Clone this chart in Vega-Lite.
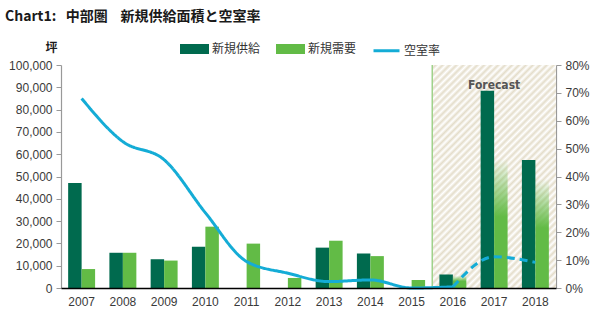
{
  "$schema": "https://vega.github.io/schema/vega-lite/v6.json",
  "width": 495,
  "height": 223,
  "autosize": {"type": "none"},
  "padding": {"left": 61, "top": 65, "right": 44, "bottom": 33},
  "background": "white",
  "title": {
    "text": "Chart1:\u00a0\u00a0\u00a0中部圏\u00a0\u00a0\u00a0\u00a0新規供給面積と空室率",
    "anchor": "start",
    "frame": "group",
    "dx": -56,
    "offset": 10,
    "font": "Noto Sans CJK JP",
    "fontSize": 14,
    "fontWeight": "bold",
    "color": "#1a1a1a"
  },
  "config": {
    "view": {"stroke": null},
    "axis": {"labelFont": "Liberation Sans", "labelFontSize": 12, "labelColor": "#3a3a3a", "grid": false, "labelOverlap": false},
    "axisX": {"labelAngle": 0, "ticks": false, "tickSize": 0, "labelPadding": 8, "domainColor": "#000000", "domainWidth": 1.5},
    "axisY": {"domainColor": "#999999", "tickColor": "#999999", "tickSize": 5, "labelPadding": 4, "domainWidth": 1.2}
  },
  "datasets": {
    "bars": [
      {"year": "2007", "series": "新規供給", "value": 47100},
      {"year": "2008", "series": "新規供給", "value": 15800},
      {"year": "2009", "series": "新規供給", "value": 12900},
      {"year": "2010", "series": "新規供給", "value": 18500},
      {"year": "2011", "series": "新規供給", "value": 0},
      {"year": "2012", "series": "新規供給", "value": 0},
      {"year": "2013", "series": "新規供給", "value": 18100},
      {"year": "2014", "series": "新規供給", "value": 15500},
      {"year": "2015", "series": "新規供給", "value": 0},
      {"year": "2016", "series": "新規供給", "value": 6100},
      {"year": "2017", "series": "新規供給", "value": 88500},
      {"year": "2018", "series": "新規供給", "value": 57400},
      {"year": "2007", "series": "新規需要", "value": 8500},
      {"year": "2008", "series": "新規需要", "value": 15800},
      {"year": "2009", "series": "新規需要", "value": 12300},
      {"year": "2010", "series": "新規需要", "value": 27500},
      {"year": "2011", "series": "新規需要", "value": 19900},
      {"year": "2012", "series": "新規需要", "value": 4500},
      {"year": "2013", "series": "新規需要", "value": 21200},
      {"year": "2014", "series": "新規需要", "value": 14300},
      {"year": "2015", "series": "新規需要", "value": 3600},
      {"year": "2016", "series": "新規需要", "value": 5500},
      {"year": "2017", "series": "新規需要", "value": 58000},
      {"year": "2018", "series": "新規需要", "value": 49000}
    ],
    "rate": [
      {"year": "2007", "rate": 0.68, "seg": "actual"},
      {"year": "2008", "rate": 0.525, "seg": "actual"},
      {"year": "2009", "rate": 0.46, "seg": "actual"},
      {"year": "2010", "rate": 0.27, "seg": "actual"},
      {"year": "2011", "rate": 0.095, "seg": "actual"},
      {"year": "2012", "rate": 0.053, "seg": "actual"},
      {"year": "2013", "rate": 0.023, "seg": "actual"},
      {"year": "2014", "rate": 0.029, "seg": "actual"},
      {"year": "2015", "rate": 0.0, "seg": "actual"},
      {"year": "2016", "rate": 0.004, "seg": "actual"},
      {"year": "2016", "rate": 0.004, "seg": "forecast"},
      {"year": "2017", "rate": 0.112, "seg": "forecast"},
      {"year": "2018", "rate": 0.092, "seg": "forecast"}
    ],
    "fc": [{"start": "2016", "end": "2018", "mid": "2017", "label": "Forecast"}]
  },
  "layer": [
    {
      "layer": [
        {
          "data": {"name": "fc"},
          "mark": {
            "type": "rect",
            "fill": {
              "gradient": "linear", "x1": 0, "y1": 0, "x2": 0.66, "y2": 1.19,
              "stops": [
                {"offset": 0, "color": "#ffffff"}, {"offset": 0.01, "color": "#e4ddca"},
                {"offset": 0.02, "color": "#ffffff"}, {"offset": 0.03, "color": "#e4ddca"},
                {"offset": 0.04, "color": "#ffffff"}, {"offset": 0.05, "color": "#e4ddca"},
                {"offset": 0.06, "color": "#ffffff"}, {"offset": 0.07, "color": "#e4ddca"},
                {"offset": 0.08, "color": "#ffffff"}, {"offset": 0.09, "color": "#e4ddca"},
                {"offset": 0.10, "color": "#ffffff"}, {"offset": 0.11, "color": "#e4ddca"},
                {"offset": 0.12, "color": "#ffffff"}, {"offset": 0.13, "color": "#e4ddca"},
                {"offset": 0.14, "color": "#ffffff"}, {"offset": 0.15, "color": "#e4ddca"},
                {"offset": 0.16, "color": "#ffffff"}, {"offset": 0.17, "color": "#e4ddca"},
                {"offset": 0.18, "color": "#ffffff"}, {"offset": 0.19, "color": "#e4ddca"},
                {"offset": 0.20, "color": "#ffffff"}, {"offset": 0.21, "color": "#e4ddca"},
                {"offset": 0.22, "color": "#ffffff"}, {"offset": 0.23, "color": "#e4ddca"},
                {"offset": 0.24, "color": "#ffffff"}, {"offset": 0.25, "color": "#e4ddca"},
                {"offset": 0.26, "color": "#ffffff"}, {"offset": 0.27, "color": "#e4ddca"},
                {"offset": 0.28, "color": "#ffffff"}, {"offset": 0.29, "color": "#e4ddca"},
                {"offset": 0.30, "color": "#ffffff"}, {"offset": 0.31, "color": "#e4ddca"},
                {"offset": 0.32, "color": "#ffffff"}, {"offset": 0.33, "color": "#e4ddca"},
                {"offset": 0.34, "color": "#ffffff"}, {"offset": 0.35, "color": "#e4ddca"},
                {"offset": 0.36, "color": "#ffffff"}, {"offset": 0.37, "color": "#e4ddca"},
                {"offset": 0.38, "color": "#ffffff"}, {"offset": 0.39, "color": "#e4ddca"},
                {"offset": 0.40, "color": "#ffffff"}, {"offset": 0.41, "color": "#e4ddca"},
                {"offset": 0.42, "color": "#ffffff"}, {"offset": 0.43, "color": "#e4ddca"},
                {"offset": 0.44, "color": "#ffffff"}, {"offset": 0.45, "color": "#e4ddca"},
                {"offset": 0.46, "color": "#ffffff"}, {"offset": 0.47, "color": "#e4ddca"},
                {"offset": 0.48, "color": "#ffffff"}, {"offset": 0.49, "color": "#e4ddca"},
                {"offset": 0.50, "color": "#ffffff"}, {"offset": 0.51, "color": "#e4ddca"},
                {"offset": 0.52, "color": "#ffffff"}, {"offset": 0.53, "color": "#e4ddca"},
                {"offset": 0.54, "color": "#ffffff"}, {"offset": 0.55, "color": "#e4ddca"},
                {"offset": 0.56, "color": "#ffffff"}, {"offset": 0.57, "color": "#e4ddca"},
                {"offset": 0.58, "color": "#ffffff"}, {"offset": 0.59, "color": "#e4ddca"},
                {"offset": 0.60, "color": "#ffffff"}, {"offset": 0.61, "color": "#e4ddca"},
                {"offset": 0.62, "color": "#ffffff"}, {"offset": 0.63, "color": "#e4ddca"},
                {"offset": 0.64, "color": "#ffffff"}, {"offset": 0.65, "color": "#e4ddca"},
                {"offset": 0.66, "color": "#ffffff"}, {"offset": 0.67, "color": "#e4ddca"},
                {"offset": 0.68, "color": "#ffffff"}, {"offset": 0.69, "color": "#e4ddca"},
                {"offset": 0.70, "color": "#ffffff"}, {"offset": 0.71, "color": "#e4ddca"},
                {"offset": 0.72, "color": "#ffffff"}, {"offset": 0.73, "color": "#e4ddca"},
                {"offset": 0.74, "color": "#ffffff"}, {"offset": 0.75, "color": "#e4ddca"},
                {"offset": 0.76, "color": "#ffffff"}, {"offset": 0.77, "color": "#e4ddca"},
                {"offset": 0.78, "color": "#ffffff"}, {"offset": 0.79, "color": "#e4ddca"},
                {"offset": 0.80, "color": "#ffffff"}, {"offset": 0.81, "color": "#e4ddca"},
                {"offset": 0.82, "color": "#ffffff"}, {"offset": 0.83, "color": "#e4ddca"},
                {"offset": 0.84, "color": "#ffffff"}, {"offset": 0.85, "color": "#e4ddca"},
                {"offset": 0.86, "color": "#ffffff"}, {"offset": 0.87, "color": "#e4ddca"},
                {"offset": 0.88, "color": "#ffffff"}, {"offset": 0.89, "color": "#e4ddca"},
                {"offset": 0.90, "color": "#ffffff"}, {"offset": 0.91, "color": "#e4ddca"},
                {"offset": 0.92, "color": "#ffffff"}, {"offset": 0.93, "color": "#e4ddca"},
                {"offset": 0.94, "color": "#ffffff"}, {"offset": 0.95, "color": "#e4ddca"},
                {"offset": 0.96, "color": "#ffffff"}, {"offset": 0.97, "color": "#e4ddca"},
                {"offset": 0.98, "color": "#ffffff"}, {"offset": 0.99, "color": "#e4ddca"},
                {"offset": 1, "color": "#ffffff"}
              ]
            }
          },
          "encoding": {
            "x": {"field": "start", "type": "ordinal", "bandPosition": 0, "title": null},
            "x2": {"field": "end", "bandPosition": 1},
            "y": {
              "datum": 0, "type": "quantitative", "title": "坪",
              "scale": {"domain": [0, 100000]},
              "axis": {
                "values": [0,10000,20000,30000,40000,50000,60000,70000,80000,90000,100000],
                "format": ",d",
                "labelOverlap": false,
                "titleAngle": 0, "titleX": -10, "titleY": -18, "titleAlign": "center", "titleBaseline": "middle",
                "titleFont": "Noto Sans CJK JP", "titleFontSize": 12, "titleFontWeight": "bold", "titleColor": "#1a1a1a"
              }
            },
            "y2": {"datum": 100000}
          }
        },
        {
          "data": {"name": "fc"},
          "mark": {"type": "rule", "color": "#9fd28b", "strokeWidth": 1.5},
          "encoding": {
            "x": {"field": "start", "type": "ordinal", "bandPosition": 0, "title": null},
            "y": {
              "datum": 0, "type": "quantitative", "title": "坪",
              "axis": {
                "values": [0,10000,20000,30000,40000,50000,60000,70000,80000,90000,100000],
                "format": ",d",
                "labelOverlap": false,
                "titleAngle": 0, "titleX": -10, "titleY": -18, "titleAlign": "center", "titleBaseline": "middle",
                "titleFont": "Noto Sans CJK JP", "titleFontSize": 12, "titleFontWeight": "bold", "titleColor": "#1a1a1a"
              }
            },
            "y2": {"datum": 100000}
          }
        },
        {
          "data": {"name": "fc"},
          "mark": {"type": "text", "font": "Liberation Sans Narrow, DejaVu Sans Condensed, sans-serif", "fontWeight": "bold", "fontSize": 12, "color": "#555555"},
          "encoding": {
            "x": {"field": "mid", "type": "ordinal", "title": null},
            "y": {
              "datum": 91000, "type": "quantitative", "title": "坪",
              "axis": {
                "values": [0,10000,20000,30000,40000,50000,60000,70000,80000,90000,100000],
                "format": ",d",
                "labelOverlap": false,
                "titleAngle": 0, "titleX": -10, "titleY": -18, "titleAlign": "center", "titleBaseline": "middle",
                "titleFont": "Noto Sans CJK JP", "titleFontSize": 12, "titleFontWeight": "bold", "titleColor": "#1a1a1a"
              }
            },
            "text": {"field": "label"}
          }
        },
        {
          "data": {"name": "bars"},
          "transform": [{"filter": "!(datum.series === '新規需要' && datum.year >= '2016')"}],
          "mark": {"type": "bar"},
          "encoding": {
            "x": {
              "field": "year", "type": "ordinal", "title": null,
              "scale": {"domain": ["2007","2008","2009","2010","2011","2012","2013","2014","2015","2016","2017","2018"], "paddingInner": 0, "paddingOuter": 0}
            },
            "xOffset": {"field": "series", "type": "nominal", "scale": {"domain": ["新規供給", "新規需要"], "paddingInner": 0, "paddingOuter": 0.53}},
            "y": {
              "field": "value", "type": "quantitative", "title": "坪",
              "axis": {
                "values": [0,10000,20000,30000,40000,50000,60000,70000,80000,90000,100000],
                "format": ",d",
                "labelOverlap": false,
                "titleAngle": 0, "titleX": -10, "titleY": -18, "titleAlign": "center", "titleBaseline": "middle",
                "titleFont": "Noto Sans CJK JP", "titleFontSize": 12, "titleFontWeight": "bold", "titleColor": "#1a1a1a"
              }
            },
            "color": {
              "field": "series", "type": "nominal",
              "scale": {"domain": ["新規供給", "新規需要", "空室率"], "range": ["#006a4e", "#62bb46", "#14acd6"]},
              "legend": {
                "orient": "none", "legendX": 119, "legendY": -31, "direction": "horizontal", "title": null,
                "labelFont": "Noto Sans CJK JP", "labelFontSize": 12, "labelColor": "#333333",
                "symbolSize": 676, "labelOffset": 3, "columnPadding": 10,
                "encode": {
                  "symbols": {
                    "update": {
                      "shape": {"signal": "datum.value === '空室率' ? 'M-1,0H1' : 'M-1,-0.27H1V0.27H-1Z'"},
                      "fill": {"signal": "datum.value === '空室率' ? 'transparent' : (datum.value === '新規供給' ? '#006a4e' : '#62bb46')"},
                      "stroke": {"signal": "datum.value === '空室率' ? '#14acd6' : 'transparent'"},
                      "strokeWidth": {"value": 3},
                      "opacity": {"value": 1}
                    }
                  }
                }
              }
            }
          }
        },
        {
          "data": {"name": "bars"},
          "transform": [{"filter": "datum.series === '新規需要' && datum.year >= '2016'"}],
          "mark": {
            "type": "bar",
            "fill": {
              "gradient": "linear", "x1": 0, "y1": 1, "x2": 0, "y2": 0,
              "stops": [
                {"offset": 0, "color": "#62bb46"},
                {"offset": 0.55, "color": "#62bb46"},
                {"offset": 1, "color": "rgba(98,187,70,0)"}
              ]
            }
          },
          "encoding": {
            "x": {"field": "year", "type": "ordinal", "title": null},
            "xOffset": {"field": "series", "type": "nominal"},
            "y": {
              "field": "value", "type": "quantitative", "title": "坪",
              "axis": {
                "values": [0,10000,20000,30000,40000,50000,60000,70000,80000,90000,100000],
                "format": ",d",
                "labelOverlap": false,
                "titleAngle": 0, "titleX": -10, "titleY": -18, "titleAlign": "center", "titleBaseline": "middle",
                "titleFont": "Noto Sans CJK JP", "titleFontSize": 12, "titleFontWeight": "bold", "titleColor": "#1a1a1a"
              }
            }
          }
        }
      ]
    },
    {
      "data": {"name": "rate"},
      "mark": {"type": "line", "interpolate": "monotone", "strokeWidth": 3},
      "encoding": {
        "x": {"field": "year", "type": "ordinal", "title": null},
        "y": {
          "field": "rate", "type": "quantitative", "title": null,
          "scale": {"domain": [0, 0.8]},
          "axis": {"orient": "right", "format": ".0%", "labelOverlap": false, "values": [0,0.1,0.2,0.3,0.4,0.5,0.6,0.7,0.8]}
        },
        "color": {"datum": "空室率"},
        "strokeDash": {"field": "seg", "type": "nominal", "scale": {"domain": ["actual", "forecast"], "range": [[1, 0], [8, 5]]}, "legend": null}
      }
    }
  ],
  "resolve": {"scale": {"y": "independent"}}
}
